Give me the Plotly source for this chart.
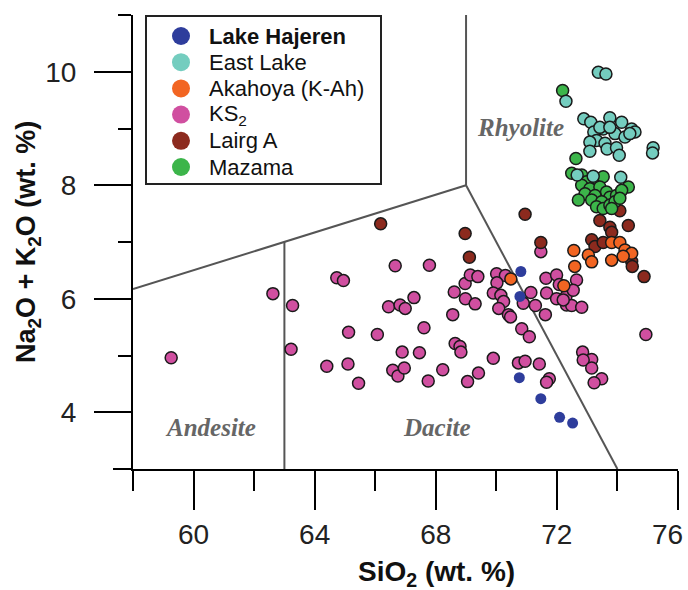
import plotly.graph_objects as go

# ---------------- data (SiO2 wt.%, Na2O+K2O wt.%) ----------------
hajeren_sio2 = [70.81, 70.78, 70.76, 71.47, 72.09, 72.52]
hajeren_alk = [6.48, 6.04, 4.61, 4.24, 3.91, 3.81]

east_sio2 = [73.37, 73.62, 72.30, 72.89, 73.12, 73.75, 74.14, 74.47, 74.58, 73.53, 73.92,
             73.22, 73.31, 73.09, 74.25, 73.59, 73.66, 73.97, 73.09, 74.06, 74.41, 73.42,
             73.75, 75.18, 75.16, 72.67, 73.20, 74.11]
east_alk = [9.99, 9.96, 9.48, 9.17, 9.11, 9.19, 9.11, 8.99, 8.94, 8.99, 8.91,
            8.94, 8.79, 8.76, 8.85, 8.74, 8.64, 8.66, 8.60, 8.53, 8.91, 9.02,
            9.02, 8.66, 8.57, 8.18, 8.16, 8.14]

akahoya_sio2 = [70.48, 72.23, 72.56, 72.59, 73.04, 73.15, 73.81, 74.08, 74.25, 74.47, 73.81, 74.19]
akahoya_alk = [6.35, 6.23, 6.85, 6.57, 6.77, 6.65, 6.99, 6.99, 6.86, 6.80, 6.68, 6.75]

ks2_sio2 = [59.26, 62.62, 63.27, 63.22, 64.40, 64.73, 64.95, 65.12, 65.10, 65.45, 66.07,
            66.44, 66.66, 66.82, 66.99, 67.28, 66.58, 66.75, 66.96, 66.89, 67.46, 67.61,
            67.75, 67.79, 68.23, 68.56, 68.64, 68.80, 68.83, 68.61, 68.97, 69.14, 69.39,
            68.98, 69.30, 69.05, 69.41, 69.90, 70.01, 70.30, 70.02, 69.90, 70.15, 70.24,
            70.08, 70.40, 70.47, 70.84, 71.09, 70.89, 71.14, 71.29, 71.47, 71.64, 71.66,
            71.62, 71.99, 72.08, 71.99, 72.30, 72.32, 72.65, 72.54, 72.49, 72.82, 72.21,
            70.73, 70.95, 71.42, 71.75, 71.66, 72.85, 73.15, 72.87, 73.15, 73.48, 73.23,
            74.94]
ks2_alk = [4.96, 6.09, 5.88, 5.11, 4.81, 6.37, 6.32, 5.41, 4.85, 4.51, 5.37,
           5.86, 6.58, 5.89, 5.83, 6.02, 4.74, 4.64, 4.78, 5.06, 5.05, 5.49,
           4.55, 6.59, 4.75, 5.72, 5.21, 5.16, 5.06, 6.12, 6.27, 6.42, 6.39,
           6.00, 5.91, 4.54, 4.69, 4.95, 6.44, 6.41, 6.28, 6.10, 6.06, 5.95,
           5.83, 5.72, 5.68, 5.47, 5.33, 5.92, 6.11, 5.88, 6.83, 6.36, 6.10,
           5.72, 6.42, 6.25, 6.00, 6.04, 5.89, 6.33, 6.15, 5.88, 5.85, 5.98,
           4.87, 4.90, 4.85, 4.59, 4.53, 5.06, 4.93, 4.92, 4.78, 4.59, 4.52,
           5.37]

lairg_sio2 = [66.18, 68.97, 69.11, 70.95, 71.47, 73.42, 73.81, 74.08, 74.36, 73.75, 73.81,
              73.15, 73.26, 73.53, 74.47, 74.49, 74.88]
lairg_alk = [7.32, 7.15, 6.73, 7.49, 6.99, 7.38, 7.60, 7.55, 7.29, 7.26, 7.17,
             7.04, 6.92, 6.99, 6.66, 6.57, 6.39]

mazama_sio2 = [72.19, 72.63, 72.49, 72.82, 72.98, 73.31, 73.53, 72.82, 73.09, 73.42, 73.64,
               72.93, 73.26, 73.75, 73.97, 74.36, 74.14, 72.71, 73.15, 73.48, 73.31, 73.53,
               73.75, 73.92, 74.08, 73.81]
mazama_alk = [9.67, 8.47, 8.21, 8.18, 8.06, 8.12, 8.15, 8.00, 7.94, 7.97, 7.88,
              7.85, 7.82, 7.79, 7.82, 7.97, 7.91, 7.74, 7.74, 7.71, 7.62, 7.59,
              7.65, 7.71, 7.77, 7.59]

# TAS field boundaries (Le Bas et al.) within the plotted window
tas_lines = [
    ([58.0, 63.0, 69.0], [6.17, 7.0, 8.0]),
    ([63.0, 63.0], [3.0, 7.0]),
    ([69.0, 69.0], [8.0, 11.0]),
    ([69.0, 74.0], [8.0, 3.0]),
]
field_names = ["Rhyolite", "Andesite", "Dacite"]
field_x = [70.8, 60.55, 68.05]
field_y = [9.02, 3.74, 3.74]

x_ticks = [60, 64, 68, 72, 76]
x_ticklabels = ["60", "64", "68", "72", "76"]
y_ticks = [4, 6, 8, 10]

legend_names = ["<b>Lake Hajeren</b>", "East Lake", "Akahoya (K-Ah)", "KS<sub>2</sub>", "Lairg A", "Mazama"]
legend_colors = ["#2E3D9C", "#74CDBF", "#F26522", "#D04FA0", "#8C2A1E", "#3CB54A"]

# ---------------- styling ----------------
series = [
    (ks2_sio2, ks2_alk, "#D04FA0", True),
    (lairg_sio2, lairg_alk, "#8C2A1E", True),
    (mazama_sio2, mazama_alk, "#3CB54A", True),
    (east_sio2, east_alk, "#74CDBF", True),
    (akahoya_sio2, akahoya_alk, "#F26522", True),
    (hajeren_sio2, hajeren_alk, "#2E3D9C", False),
]

fig = go.Figure()

for lx, ly in tas_lines:
    fig.add_trace(go.Scatter(x=lx, y=ly, mode="lines", line=dict(color="#555555", width=2),
                             showlegend=False, hoverinfo="skip"))

for xs, ys, col, outlined in series:
    fig.add_trace(go.Scatter(
        x=xs, y=ys, mode="markers", showlegend=False,
        marker=dict(size=12 if outlined else 11, color=col,
                    line=dict(color="#1a1a1a" if outlined else col, width=1.5 if outlined else 0)),
        cliponaxis=False,
    ))

# ---- hand-built key: overlay axis in pixel units of the plot area ----
L, R, T, B = 133, 678, 15, 469
key_left, key_top, key_right, key_bottom = 146, 16, 381, 184
row0, row_gap = 36, 26.2
rows_y = [row0 + i * row_gap for i in range(len(legend_names))]
fig.add_trace(go.Scatter(
    x=[181] * len(legend_names), y=rows_y, mode="markers", xaxis="x2", yaxis="y2",
    marker=dict(size=18, color=legend_colors, line=dict(width=0)), showlegend=False, hoverinfo="skip"))
for name, ry in zip(legend_names, rows_y):
    fig.add_annotation(x=207, y=ry, xref="x2", yref="y2", text=name, showarrow=False,
                       xanchor="left", yanchor="middle", font=dict(size=22, color="#111111"))
fig.add_shape(type="rect", xref="x2", yref="y2", x0=key_left, x1=key_right, y0=key_top, y1=key_bottom,
              line=dict(color="#222222", width=2), fillcolor="rgba(0,0,0,0)", layer="below")

for t, fx, fy in zip(field_names, field_x, field_y):
    fig.add_annotation(x=fx, y=fy, text="<b><i>" + t + "</i></b>", showarrow=False,
                       font=dict(family="Liberation Serif, Times New Roman, serif", size=25, color="#666666"))

fig.add_annotation(xref="paper", yref="paper", x=(436 - L) / (R - L), y=-(573 - B) / (B - T),
                   text="<b>SiO<sub>2</sub> (wt. %)</b>", showarrow=False,
                   font=dict(size=28, color="#111111"), xanchor="center", yanchor="middle")
fig.add_annotation(xref="paper", yref="paper", x=(28 - L) / (R - L), y=0.5,
                   text="<b>Na<sub>2</sub>O + K<sub>2</sub>O (wt. %)</b>", showarrow=False, textangle=-90,
                   font=dict(size=27, color="#111111"), xanchor="center", yanchor="middle")

# last tick label sits nudged inside the frame, as in the original
fig.add_annotation(x=x_ticks[-1], xref="x", yref="paper", y=-(534 - B) / (B - T), text=x_ticklabels[-1],
                   showarrow=False, xanchor="right", yanchor="middle", xshift=7,
                   font=dict(size=28, color="#222222"))

# x-axis baseline extends a little left of the y axis
fig.add_shape(type="line", xref="paper", yref="paper", x0=-20 / (R - L), x1=0, y0=0, y1=0,
              line=dict(color="black", width=2))

fig.update_xaxes(range=[57.999, 76.001], tickvals=x_ticks, ticktext=x_ticklabels[:-1] + [""],
                 showline=True, linecolor="black", linewidth=2,
                 ticks="outside", ticklen=39, tickwidth=2, tickcolor="black",
                 minor=dict(ticks="outside", ticklen=20, tickwidth=2, tickcolor="black",
                            tickvals=[58, 62, 66, 70, 74]),
                 showgrid=False, zeroline=False, tickfont=dict(size=28, color="#222222"),
                 ticklabelstandoff=0, ticklabeloverflow="allow", automargin=False)
fig.update_yaxes(range=[3, 11], tickvals=y_ticks, showline=True, linecolor="black", linewidth=2,
                 ticks="outside", ticklen=37, tickwidth=2, tickcolor="black",
                 minor=dict(ticks="outside", ticklen=13, tickwidth=2, tickcolor="black", dtick=1, tick0=3),
                 showgrid=False, zeroline=False, tickfont=dict(size=28, color="#222222"),
                 ticklabelstandoff=12, automargin=False)

fig.update_layout(
    width=688, height=590,
    margin=dict(l=L, r=688 - R, t=T, b=590 - B, autoexpand=False),
    paper_bgcolor="white", plot_bgcolor="white",
    font=dict(family="Liberation Sans, Arial, sans-serif", color="#111111"),
    showlegend=False,
    xaxis2=dict(overlaying="x", range=[L, R], visible=False, fixedrange=True),
    yaxis2=dict(overlaying="y", range=[B, T], visible=False, fixedrange=True),
)

fig.write_html("out.html", config={"displayModeBar": False},
               post_script="document.body.style.margin='0';document.body.style.overflow='hidden';")
